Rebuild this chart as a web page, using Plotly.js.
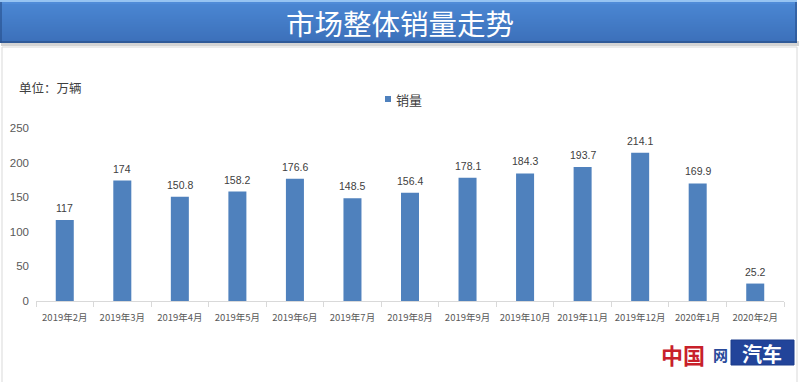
<!DOCTYPE html>
<html>
<head>
<meta charset="utf-8">
<script src="https://cdn.plot.ly/plotly-3.0.1.min.js"></script>
<style>
html,body{margin:0;padding:0;background:#fff;}
#chart{width:800px;height:382px;}
</style>
</head>
<body>
<div id="chart"></div>
<script>
// ---- data ----
var categories = ["2019年2月","2019年3月","2019年4月","2019年5月","2019年6月","2019年7月","2019年8月","2019年9月","2019年10月","2019年11月","2019年12月","2020年1月","2020年2月"];
var sales = [117, 174, 150.8, 158.2, 176.6, 148.5, 156.4, 178.1, 184.3, 193.7, 214.1, 169.9, 25.2];
var salesLabels = ["117","174","150.8","158.2","176.6","148.5","156.4","178.1","184.3","193.7","214.1","169.9","25.2"];
var yTicks = [0, 50, 100, 150, 200, 250];
var seriesName = "销量";
var chartTitle = "市场整体销量走势";
var unitText = "单位：万辆";

// ---- geometry helpers (pixel -> paper) ----
var W = 800, H = 382;
var ml = 36, mr = 16, mt = 128, mb = 81;
var pw = W - ml - mr, ph = H - mt - mb;
function px(x){ return (x - ml) / pw; }
function py(y){ return (H - mb - y) / ph; }

var barColor = "#4f81bd";
var font = "'Noto Sans CJK SC', 'Noto Sans', sans-serif";

var shapes = [];
// panel border
shapes.push({type:"rect", xref:"paper", yref:"paper", x0:px(2), x1:px(797), y0:py(390), y1:py(47),
  line:{color:"#d9d9d9", width:1}, fillcolor:"rgba(0,0,0,0)", layer:"below"});
// banner shadow
shapes.push({type:"rect", xref:"paper", yref:"paper", x0:px(1), x1:px(799), y0:py(46), y1:py(41),
  line:{width:0}, fillcolor:"#d4d4d4", layer:"below"});
// banner gradient stripes
function lerp(a,b,t){ return Math.round(a+(b-a)*t); }
function col(c1,c2,t){ return "rgb("+lerp(c1[0],c2[0],t)+","+lerp(c1[1],c2[1],t)+","+lerp(c1[2],c2[2],t)+")"; }
var top1=[150,196,242], top2=[86,146,222], mid=[74,134,210], bot=[60,112,186];
for (var y=0; y<43; y++){
  var c;
  if (y<2) c = col(top1, top1, 0);
  else if (y<4) c = col(top2, mid, 0.5);
  else if (y<41) c = col(mid, bot, (y-4)/37);
  else c = "rgb(48,90,152)";
  shapes.push({type:"rect", xref:"paper", yref:"paper", x0:px(0), x1:px(797), y0:py(y+1), y1:py(y),
    line:{width:0}, fillcolor:c, layer:"below"});
}
// banner left/right darker edge
shapes.push({type:"rect", xref:"paper", yref:"paper", x0:px(0), x1:px(2), y0:py(43), y1:py(2),
  line:{width:0}, fillcolor:"rgba(40,80,140,0.6)", layer:"below"});
shapes.push({type:"rect", xref:"paper", yref:"paper", x0:px(795), x1:px(797), y0:py(43), y1:py(2),
  line:{width:0}, fillcolor:"rgba(40,80,140,0.6)", layer:"below"});
// legend swatch
shapes.push({type:"rect", xref:"paper", yref:"paper", x0:px(385), x1:px(391), y0:py(102), y1:py(96),
  line:{width:0}, fillcolor:barColor});
// logo box
shapes.push({type:"rect", xref:"paper", yref:"paper", x0:px(731), x1:px(794), y0:py(365), y1:py(340),
  line:{color:"#1d3c8c", width:1}, fillcolor:"#22449a"});

var annotations = [];
annotations.push({xref:"paper", yref:"paper", x:px(400), y:py(22), text:chartTitle, showarrow:false,
  xanchor:"center", yanchor:"middle", font:{family:font, size:28.5, color:"#ffffff"}});
annotations.push({xref:"paper", yref:"paper", x:px(17), y:py(87), text:unitText, showarrow:false,
  xanchor:"left", yanchor:"middle", font:{family:font, size:12.5, color:"#404040"}});
annotations.push({xref:"paper", yref:"paper", x:px(394), y:py(99), text:seriesName, showarrow:false,
  xanchor:"left", yanchor:"middle", font:{family:font, size:13, color:"#404040"}});
// data labels
for (var i=0;i<categories.length;i++){
  annotations.push({x:categories[i], y:sales[i], xref:"x", yref:"y", text:salesLabels[i], showarrow:false,
    xanchor:"center", yanchor:"bottom", yshift:4, font:{family:"'Liberation Sans', Arial, sans-serif", size:10.5, color:"#404040"}});
}
// logo text
annotations.push({xref:"paper", yref:"paper", x:px(683), y:py(354), text:"<b>中国</b>", showarrow:false,
  xanchor:"center", yanchor:"middle", borderpad:0, font:{family:"'Noto Sans CJK SC', serif", size:22, color:"#c8202a"}});
annotations.push({xref:"paper", yref:"paper", x:px(720), y:py(354), text:"<b>网</b>", showarrow:false,
  xanchor:"center", yanchor:"middle", borderpad:0, font:{family:"'Noto Sans CJK SC', serif", size:15, color:"#2a4a9a"}});
annotations.push({xref:"paper", yref:"paper", x:px(762), y:py(353), text:"<b>汽车</b>", showarrow:false,
  xanchor:"center", yanchor:"middle", font:{family:"'Noto Sans CJK SC', sans-serif", size:20, color:"#ffffff"}});

var trace = {
  type:"bar", x:categories, y:sales, name:seriesName,
  marker:{color:barColor}, showlegend:false, hoverinfo:"x+y"
};

var layout = {
  width:W, height:H,
  margin:{l:ml, r:mr, t:mt, b:mb, pad:0},
  paper_bgcolor:"#ffffff", plot_bgcolor:"#ffffff",
  bargap:0.687,
  showlegend:false,
  font:{family:font, color:"#595959"},
  xaxis:{
    type:"category", showgrid:false, zeroline:false,
    showline:true, linecolor:"#d9d9d9", linewidth:1,
    ticks:"outside", tickson:"boundaries", ticklen:5, tickcolor:"#d9d9d9",
    tickfont:{family:font, size:9.5, color:"#595959"}, tickangle:0,
    ticklabelstandoff:8
  },
  yaxis:{
    range:[0,250], tickvals:yTicks, showgrid:false, zeroline:false, showline:false,
    ticks:"", tickfont:{family:"'Liberation Sans', Arial, sans-serif", size:11.5, color:"#595959"},
    ticklabelstandoff:6
  },
  shapes:shapes, annotations:annotations
};

Plotly.newPlot("chart", [trace], layout, {staticPlot:true, displayModeBar:false});
</script>
</body>
</html>
